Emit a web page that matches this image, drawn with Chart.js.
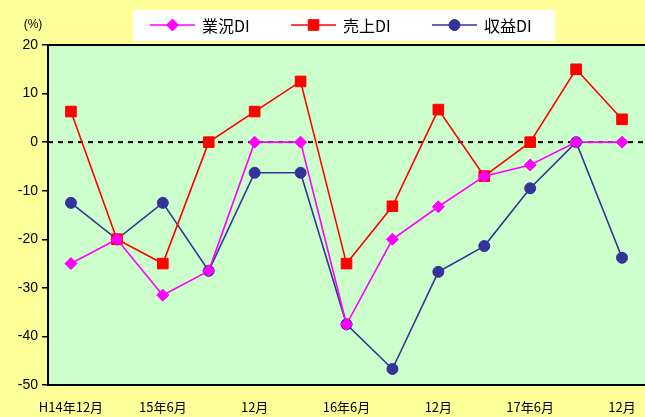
<!DOCTYPE html>
<html><head><meta charset="utf-8">
<script src="https://cdn.jsdelivr.net/npm/chart.js@4/dist/chart.umd.min.js"></script>
<style>html,body{margin:0;padding:0;background:#FFFF99;}#wrap{width:645px;height:417px;}</style>
</head><body><div id="wrap"><canvas id="c" width="645" height="417"></canvas></div>
<script>
const categories = ["H14年12月","15年3月","15年6月","15年9月","12月","16年3月","16年6月","16年9月","12月","17年3月","17年6月","17年9月","12月"];
const tickLabels = ["H14年12月","","15年6月","","12月","","16年6月","","12月","","17年6月","","12月"];
const seriesNames = ["業況DI","売上DI","収益DI"];
const gyokyo = [-25, -20, -31.5, -26.5, 0, 0, -37.5, -20, -13.3, -7, -4.7, 0, 0];
const uriage = [6.3, -20, -25, 0, 6.3, 12.5, -25, -13.2, 6.7, -7, 0, 15, 4.7];
const shueki = [-12.5, -20, -12.5, -26.5, -6.3, -6.3, -37.5, -46.7, -26.7, -21.4, -9.5, 0, -23.8];
const yTicks = [20, 10, 0, -10, -20, -30, -40, -50];

const FONT = "'Liberation Sans', Arial, sans-serif";
const colors = ["#FF00FF", "#FF0000", "#333399"];
const styles = ["rectRot", "rect", "circle"];
const radii = [6, 7.5, 5.5];

const bgPlugin = {
  id: 'bg',
  beforeDraw(chart) {
    const {ctx, chartArea: a} = chart;
    ctx.save();
    ctx.fillStyle = '#FFFF99';
    ctx.fillRect(0, 0, chart.width, chart.height);
    ctx.fillStyle = '#CCFFCC';
    ctx.fillRect(a.left, a.top, a.right - a.left, a.bottom - a.top);
    ctx.restore();
  },
  beforeDatasetsDraw(chart) {
    const {ctx, chartArea: a, scales} = chart;
    const y0 = scales.y.getPixelForValue(0);
    ctx.save();
    ctx.strokeStyle = '#000';
    ctx.lineWidth = 2;
    ctx.setLineDash([5, 5]);
    ctx.beginPath();
    ctx.moveTo(a.left, y0);
    ctx.lineTo(a.right, y0);
    ctx.stroke();
    ctx.setLineDash([]);
    ctx.lineWidth = 2;
    ctx.beginPath();
    ctx.moveTo(a.left, a.top);
    ctx.lineTo(a.right, a.top);
    ctx.stroke();
    ctx.restore();
  },
  afterDraw(chart) {
    const {ctx} = chart;
    ctx.save();
    ctx.fillStyle = '#000';
    ctx.font = "12px " + FONT;
    ctx.textAlign = 'center';
    ctx.textBaseline = 'middle';
    ctx.fillText('(%)', 33, 25);
    ctx.fillStyle = '#FFFFFF';
    ctx.fillRect(133, 10, 422, 31);
    const starts = [150, 291, 432];
    chart.data.datasets.forEach((ds, i) => {
      const x = starts[i], y = 25;
      ctx.strokeStyle = ds.borderColor;
      ctx.fillStyle = ds.borderColor;
      ctx.lineWidth = 1.5;
      ctx.beginPath();
      ctx.moveTo(x, y); ctx.lineTo(x + 45, y); ctx.stroke();
      ctx.lineWidth = 1;
      Chart.helpers.drawPoint(ctx, {pointStyle: ds.pointStyle, radius: ds.pointRadius, borderWidth: 1}, x + 22.5, y);
      ctx.fillStyle = '#000';
      ctx.textAlign = 'left';
      ctx.font = "16px 'Noto Sans CJK JP', sans-serif";
      ctx.fillText(ds.label, x + 52, y + 1);
    });
    ctx.restore();
  }
};

const datasets = [gyokyo, uriage, shueki].map((d, i) => ({
  label: seriesNames[i],
  data: d,
  borderColor: colors[i],
  backgroundColor: colors[i],
  pointBackgroundColor: colors[i],
  pointBorderColor: colors[i],
  pointBorderWidth: 1,
  pointStyle: styles[i],
  pointRadius: radii[i],
  pointHoverRadius: radii[i],
  borderWidth: 1.6,
  tension: 0,
  fill: false,
  clip: false
}));

new Chart(document.getElementById('c'), {
  type: 'line',
  data: {labels: categories, datasets},
  plugins: [bgPlugin],
  options: {
    responsive: false,
    animation: false,
    events: [],
    layout: {autoPadding: false, padding: {left: 0, right: 0, top: 45, bottom: 0}},
    plugins: {legend: {display: false}, tooltip: {enabled: false}},
    scales: {
      x: {
        offset: true,
        grid: {display: false, drawTicks: false},
        border: {display: true, color: '#000', width: 2},
        ticks: {
          autoSkip: false, maxRotation: 0, color: '#000', padding: 14,
          font: {family: "'Noto Sans CJK JP', sans-serif", size: 13},
          callback: (v, i) => tickLabels[i]
        },
        afterFit: s => { s.height = 32; s.paddingLeft = 0; s.paddingRight = 0; }
      },
      y: {
        min: -50, max: 20,
        afterBuildTicks: s => { s.ticks = yTicks.map(v => ({value: v})); },
        grid: {display: true, drawOnChartArea: false, drawTicks: true, tickLength: 6, color: '#000', lineWidth: 1.5},
        border: {display: true, color: '#000', width: 2},
        ticks: {color: '#000', padding: 4, font: {family: FONT, size: 14}},
        afterFit: s => { s.width = 48; s.paddingTop = 0; s.paddingBottom = 0; }
      }
    }
  }
});
</script></body></html>
